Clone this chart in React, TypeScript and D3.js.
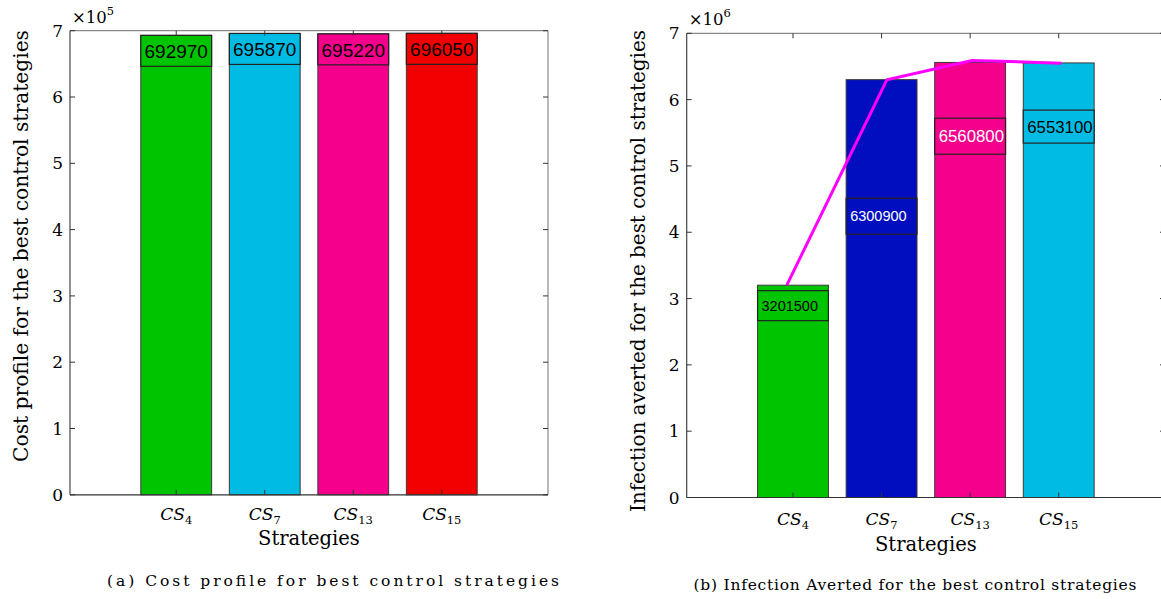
import * as d3 from "d3"

// strategy numbers (subscripts of CS)
const strategies = ["4", "7", "13", "15"]
const costValues = [692970, 695870, 695220, 696050]
const avertedValues = [3201500, 6300900, 6560800, 6553100]
// where the value boxes sit in panel (b), in data units
const avertedLabelAt = [2893000, 4241000, 5448000, 5593000]
// magenta trend line
const trendX = [0.93, 2.06, 3.02, 4.03]
const trendValues = [3201500, 6300000, 6590000, 6550000]
const yTicks = [0, 1, 2, 3, 4, 5, 6, 7]

const costColors = ["#00c400", "#00bce4", "#f5008c", "#f20000"]
const avertedColors = ["#00c400", "#000ec0", "#f5008c", "#00bce4"]
const avertedTextColors = ["#000", "#fff", "#fff", "#000"]
const avertedFont = [14.5, 14.5, 16.8, 16.8]
const avertedBoxH = [30, 36, 36, 33]

const SERIF = "'DejaVu Serif', 'Liberation Serif', serif"
const SANS = "'Liberation Sans', Arial, sans-serif"

function Panel({ x0, x1, yTop, yBot, max, exp, yLabel, yLabelY, yLabelLen, caption, capX, capY, capLen, stratY, tickY, children }) {
  const x = d3.scaleLinear().domain([-0.2, 5.2]).range([x0, x1])
  const y = d3.scaleLinear().domain([0, max]).range([yBot, yTop])
  const unit = max / 7
  const cx = (x0 + x1) / 2
  return (
    <g>
      {children(x, y)}
      {/* box */}
      <line x1={x0} x2={x1} y1={yTop} y2={yTop} stroke="#8a8a8a" strokeWidth={1.2} />
      <line x1={x1} x2={x1} y1={yTop} y2={yBot} stroke="#8a8a8a" strokeWidth={1.2} />
      <line x1={x0} x2={x0} y1={yTop} y2={yBot} stroke="#444" strokeWidth={1.2} />
      <line x1={x0} x2={x1} y1={yBot} y2={yBot} stroke="#333" strokeWidth={1.2} />
      {yTicks.map((t) => (
        <g key={t}>
          <line x1={x0} x2={x0 + 5} y1={y(t * unit)} y2={y(t * unit)} stroke="#333" />
          <line x1={x1 - 5} x2={x1} y1={y(t * unit)} y2={y(t * unit)} stroke="#333" />
          <text x={x0 - 7} y={y(t * unit) + 6} textAnchor="end" fontFamily={SERIF} fontSize={17}>
            {t}
          </text>
        </g>
      ))}
      {strategies.map((s, i) => (
        <g key={s}>
          <line x1={x(i + 1)} x2={x(i + 1)} y1={yBot} y2={yBot - 5} stroke="#333" />
          <line x1={x(i + 1)} x2={x(i + 1)} y1={yTop} y2={yTop + 5} stroke="#333" />
          <text x={x(i + 1)} y={tickY} textAnchor="middle" fontFamily={SERIF} fontSize={17}>
            <tspan fontStyle="italic">CS</tspan>
            <tspan fontSize={11.5} dy={4}>{s}</tspan>
          </text>
        </g>
      ))}
      <text x={x0 + 2} y={yTop - 8} fontFamily={SERIF} fontSize={16.5}>
        ×10<tspan fontSize={11.5} dy={-8}>{exp}</tspan>
      </text>
      <text
        transform={`translate(${x0 - 42},${yLabelY}) rotate(-90)`}
        textAnchor="middle"
        fontFamily={SERIF}
        fontSize={20.5}
        textLength={yLabelLen}
        lengthAdjust="spacingAndGlyphs"
      >
        {yLabel}
      </text>
      <text x={cx} y={stratY} textAnchor="middle" fontFamily={SERIF} fontSize={19.5}>
        Strategies
      </text>
      <text
        x={capX}
        y={capY}
        textAnchor="middle"
        fontFamily={SERIF}
        fontSize={15.5}
        textLength={capLen}
        lengthAdjust="spacing"
      >
        {caption}
      </text>
    </g>
  )
}

export default function App() {
  const bw = 0.8
  return (
    <div style={{ position: "absolute", left: 0, top: 0 }}>
      <svg width={1161} height={599} style={{ display: "block", background: "#fff" }}>
        <Panel
          x0={70}
          x1={548}
          yTop={30.7}
          yBot={494.8}
          max={700000}
          exp="5"
          yLabel="Cost profile for the best control strategies"
          yLabelY={246}
          yLabelLen={432}
          caption="(a) Cost profile for best control strategies"
          capX={333}
          capY={586}
          capLen={452}
          stratY={545}
          tickY={520}
        >
          {(x, y) =>
            costValues.map((v, i) => (
              <g key={i}>
                <rect
                  x={x(i + 1 - bw / 2)}
                  y={y(v)}
                  width={x(bw) - x(0)}
                  height={y(0) - y(v)}
                  fill={costColors[i]}
                  stroke="#3a3a3a"
                  strokeWidth={1}
                />
                <rect
                  x={x(i + 1 - bw / 2)}
                  y={y(v)}
                  width={x(bw) - x(0)}
                  height={31}
                  fill={costColors[i]}
                  stroke="#222"
                  strokeWidth={1.2}
                />
                <text
                  x={x(i + 1)}
                  y={y(v) + 23}
                  textAnchor="middle"
                  fontFamily={SANS}
                  fontSize={19}
                  fill="#000"
                >
                  {v}
                </text>
              </g>
            ))
          }
        </Panel>
        <Panel
          x0={686.7}
          x1={1165}
          yTop={33.3}
          yBot={497.5}
          max={7000000}
          exp="6"
          yLabel="Infection averted for the best control strategies"
          yLabelY={271}
          yLabelLen={482}
          caption="(b) Infection Averted for the best control strategies"
          capX={915}
          capY={590}
          capLen={443}
          stratY={551}
          tickY={525}
        >
          {(x, y) => {
            const line = d3
              .line<number>()
              .x((d, i) => x(trendX[i]))
              .y((d) => y(d))
            return (
              <g>
                {avertedValues.map((v, i) => (
                  <g key={i}>
                    <rect
                      x={x(i + 1 - bw / 2)}
                      y={y(v)}
                      width={x(bw) - x(0)}
                      height={y(0) - y(v)}
                      fill={avertedColors[i]}
                      stroke="#3a3a3a"
                      strokeWidth={1}
                    />
                    <rect
                      x={x(i + 1 - bw / 2)}
                      y={y(avertedLabelAt[i]) - avertedBoxH[i] / 2}
                      width={x(bw) - x(0)}
                      height={avertedBoxH[i]}
                      fill={avertedColors[i]}
                      stroke="#222"
                      strokeWidth={1.2}
                    />
                    <text
                      x={x(i + 1 - bw / 2) + 4}
                      y={y(avertedLabelAt[i]) + avertedFont[i] * 0.36}
                      fontFamily={SANS}
                      fontSize={avertedFont[i]}
                      fill={avertedTextColors[i]}
                    >
                      {v}
                    </text>
                  </g>
                ))}
                <path d={line(trendValues) || ""} fill="none" stroke="#ff00ff" strokeWidth={3} />
              </g>
            )
          }}
        </Panel>
      </svg>
    </div>
  )
}
